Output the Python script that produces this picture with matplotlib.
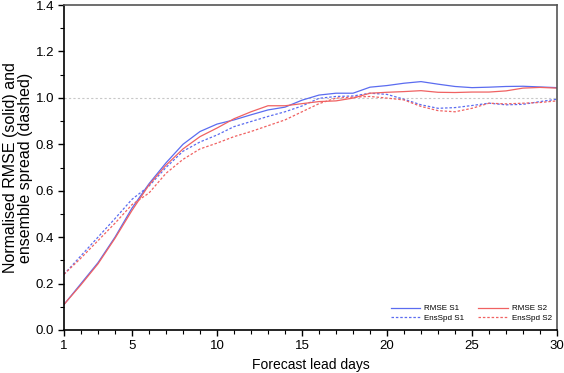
import matplotlib.pyplot as plt
from matplotlib.ticker import MultipleLocator

plt.rcParams['font.family'] = ['Liberation Sans', 'DejaVu Sans']

days = list(range(1, 31))

rmse_s1 = [0.11, 0.20, 0.29, 0.40, 0.525, 0.63, 0.72, 0.80, 0.855, 0.887,
           0.905, 0.927, 0.948, 0.96, 0.99, 1.012, 1.02, 1.02, 1.046, 1.053,
           1.063, 1.070, 1.059, 1.049, 1.044, 1.046, 1.049, 1.05, 1.047, 1.044]
rmse_s2 = [0.11, 0.195, 0.285, 0.395, 0.515, 0.625, 0.71, 0.78, 0.833, 0.87,
           0.91, 0.94, 0.966, 0.966, 0.975, 0.984, 0.987, 0.999, 1.02, 1.024,
           1.027, 1.031, 1.024, 1.023, 1.025, 1.025, 1.03, 1.042, 1.045, 1.042]
spd_s1 = [0.24, 0.32, 0.40, 0.48, 0.563, 0.62, 0.70, 0.77, 0.81, 0.84,
          0.876, 0.898, 0.92, 0.94, 0.965, 0.998, 1.006, 1.008, 1.02, 1.015,
          0.994, 0.97, 0.955, 0.958, 0.967, 0.977, 0.97, 0.972, 0.984, 0.994]
spd_s2 = [0.24, 0.31, 0.385, 0.46, 0.54, 0.59, 0.675, 0.735, 0.78, 0.805,
          0.833, 0.855, 0.88, 0.905, 0.94, 0.975, 0.999, 1.003, 1.006, 0.999,
          0.991, 0.963, 0.945, 0.94, 0.955, 0.977, 0.974, 0.977, 0.98, 0.987]

blue = '#5b6cf0'
red = '#f06262'

fig = plt.figure(figsize=(5.64, 3.73), dpi=100)
ax = fig.add_axes([64 / 564, 1 - 330 / 373, (557 - 64) / 564, 325 / 373])

ax.plot([1, 30], [1.0, 1.0], color='#c8c8c8', lw=0.8, ls=(0, (2, 2)), zorder=1)

ax.plot(days, rmse_s1, color=blue, lw=0.9, label='RMSE S1')
ax.plot(days, spd_s1, color=blue, lw=0.9, ls=(0, (2, 1.5)), label='EnsSpd S1')
ax.plot(days, rmse_s2, color=red, lw=0.9, label='RMSE S2')
ax.plot(days, spd_s2, color=red, lw=0.9, ls=(0, (2, 1.5)), label='EnsSpd S2')

ax.set_xlim(1, 30)
ax.set_ylim(0, 1.4)
ax.set_xticks([1, 5, 10, 15, 20, 25, 30])
ax.xaxis.set_minor_locator(MultipleLocator(1))
ax.yaxis.set_major_locator(MultipleLocator(0.2))
ax.yaxis.set_minor_locator(MultipleLocator(0.1))
ax.yaxis.set_major_formatter(plt.FormatStrFormatter('%.1f'))
ax.tick_params(which='major', direction='out', length=4, width=1, labelsize=9.5,
               colors='black', pad=3)
ax.tick_params(which='minor', direction='out', length=3, width=0.8)

for side in ['left', 'bottom']:
    ax.spines[side].set_color('black')
    ax.spines[side].set_linewidth(1.2)
for side in ['top', 'right']:
    ax.spines[side].set_color('#555555')
    ax.spines[side].set_linewidth(1.2)

ax.set_xlabel('Forecast lead days', fontsize=10)
ax.set_ylabel('Normalised RMSE (solid) and\nensemble spread (dashed)', fontsize=11.5,
              linespacing=1.05)
ax.yaxis.set_label_coords(-0.062, 0.5)
ax.xaxis.set_label_coords(0.5, -0.085)

ax.legend(ncol=2, loc='lower right', frameon=False, fontsize=5.8,
          handlelength=3.7, handletextpad=0.5, columnspacing=1.7,
          labelspacing=0.24, borderaxespad=0.2, bbox_to_anchor=(1.0, 0.01))

fig.savefig('out.png', dpi=100, facecolor='white')
